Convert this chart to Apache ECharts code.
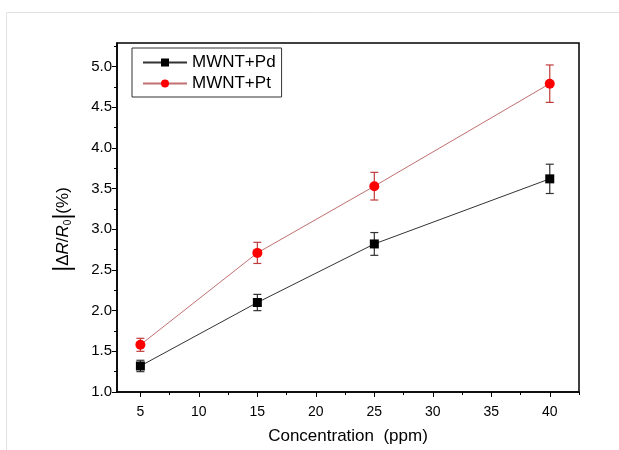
<!DOCTYPE html>
<html>
<head>
<meta charset="utf-8">
<script src="https://cdn.jsdelivr.net/npm/echarts@6/dist/echarts.min.js"></script>
<style>
html, body { margin: 0; padding: 0; background: #fff; }
#chart { width: 619px; height: 450px; }
</style>
</head>
<body>
<div id="chart"></div>
<script>
// concentration (ppm)
var conc = [5, 15, 25, 40];
// |dR/R0| (%) and error
var pdVals = [1.32, 2.10, 2.82, 3.62];
var pdErr = [0.07, 0.10, 0.14, 0.18];
var ptVals = [1.58, 2.71, 3.53, 4.79];
var ptErr = [0.08, 0.13, 0.17, 0.23];

var xTicks = [5, 10, 15, 20, 25, 30, 35, 40];
var xMinor = [7.5, 12.5, 17.5, 22.5, 27.5, 32.5, 37.5, 42.5];
var yTicks = [1.0, 1.5, 2.0, 2.5, 3.0, 3.5, 4.0, 4.5, 5.0];
var yMinor = [1.25, 1.75, 2.25, 2.75, 3.25, 3.75, 4.25, 4.75, 5.25];

var FONT = "Arial, 'Liberation Sans', sans-serif";

function pairs(xs, ys) {
	var out = [];
	for (var i = 0; i < xs.length; i++) {
		out.push([xs[i], ys[i]]);
	}
	return out;
}
function errData(xs, ys, es) {
	var out = [];
	for (var i = 0; i < xs.length; i++) {
		out.push([xs[i], ys[i] - es[i], ys[i] + es[i]]);
	}
	return out;
}
function errBar(color) {
	return function(params, api) {
		var lo = api.coord([api.value(0), api.value(1)]);
		var hi = api.coord([api.value(0), api.value(2)]);
		var w = 4;
		var st = { stroke: color, lineWidth: 1.2 };
		return {
			type: 'group',
			children: [
				{ type: 'line', shape: { x1: lo[0], y1: lo[1], x2: hi[0], y2: hi[1] }, style: st },
				{ type: 'line', shape: { x1: lo[0] - w, y1: lo[1], x2: lo[0] + w, y2: lo[1] }, style: st },
				{ type: 'line', shape: { x1: hi[0] - w, y1: hi[1], x2: hi[0] + w, y2: hi[1] }, style: st }
			]
		};
	};
}

var xMin = 3, xMax = 42.5, yMin = 1.0, yMax = 5.29;

var option = {
	backgroundColor: '#fff',
	animation: false,
	textStyle: { fontFamily: FONT },
	grid: {
		left: 117, right: 40, top: 43, bottom: 53,
		show: true, borderColor: '#000', borderWidth: 1.5, backgroundColor: 'transparent'
	},
	graphic: [
		{ type: 'line', shape: { x1: 6.5, y1: 12.5, x2: 619, y2: 12.5 }, style: { stroke: '#e2e2e2', lineWidth: 1 }, silent: true },
		{ type: 'line', shape: { x1: 6.5, y1: 12.5, x2: 6.5, y2: 450 }, style: { stroke: '#e2e2e2', lineWidth: 1 }, silent: true }
	],
	legend: {
		left: 132, top: 48,
		orient: 'vertical',
		borderColor: '#333', borderWidth: 1,
		padding: [6, 6, 5, 10],
		itemWidth: 44, itemHeight: 10, itemGap: 4,
		textStyle: { fontSize: 17, color: '#000', fontFamily: FONT },
		data: ['MWNT+Pd', 'MWNT+Pt']
	},
	xAxis: [{
		type: 'value', min: xMin, max: xMax,
		name: 'Concentration  (ppm)', nameLocation: 'middle', nameGap: 36,
		nameTextStyle: { fontSize: 17, color: '#000', fontFamily: FONT },
		splitLine: { show: false },
		axisLine: { show: true, onZero: false, lineStyle: { color: '#000', width: 1.5 } },
		axisTick: { show: true, inside: false, length: 5, lineStyle: { color: '#000' }, customValues: xTicks },
		axisLabel: { fontSize: 14, color: '#000', margin: 13, customValues: xTicks }
	}, {
		type: 'value', min: xMin, max: xMax, position: 'bottom',
		splitLine: { show: false },
		axisLine: { show: false },
		axisTick: { show: true, inside: false, length: 3, lineStyle: { color: '#000' }, customValues: xMinor },
		axisLabel: { show: false }
	}],
	yAxis: [{
		type: 'value', min: yMin, max: yMax,
		name: '{b||}{d|Δ}{i|R}{n|/}{i|R}{s|0}{b||}{n|(%)}', nameLocation: 'middle', nameGap: 42, nameRotate: 90,
		nameTextStyle: {
			color: '#000', fontFamily: FONT, fontSize: 17,
			padding: [0, 24, 0, 0],
			rich: {
				b: { fontSize: 23, color: '#000', fontFamily: FONT },
				d: { fontSize: 17, color: '#000', fontFamily: FONT },
				i: { fontSize: 17, color: '#000', fontStyle: 'italic', fontFamily: FONT },
				n: { fontSize: 17, color: '#000', fontFamily: FONT },
				s: { fontSize: 10, color: '#000', fontFamily: FONT, padding: [10, 0, 0, 0] }
			}
		},
		splitLine: { show: false },
		axisLine: { show: true, onZero: false, lineStyle: { color: '#000', width: 1.5 } },
		axisTick: { show: true, inside: false, length: 5, lineStyle: { color: '#000' }, customValues: yTicks },
		axisLabel: {
			fontSize: 15, color: '#000', margin: 5, customValues: yTicks,
			formatter: function(v) { return v.toFixed(1); }
		}
	}, {
		type: 'value', min: yMin, max: yMax, position: 'left',
		splitLine: { show: false },
		axisLine: { show: false },
		axisTick: { show: true, inside: false, length: 3, lineStyle: { color: '#000' }, customValues: yMinor },
		axisLabel: { show: false }
	}],
	series: [{
		name: 'MWNT+Pd', type: 'line',
		data: pairs(conc, pdVals),
		symbol: 'rect', symbolSize: 9,
		itemStyle: { color: '#000' },
		lineStyle: { color: '#333', width: 1 },
		z: 3
	}, {
		name: 'MWNT+Pt', type: 'line',
		data: pairs(conc, ptVals),
		symbol: 'circle', symbolSize: 10,
		itemStyle: { color: '#ff0000' },
		lineStyle: { color: '#c07070', width: 1 },
		z: 3
	}, {
		type: 'custom', name: 'errPd',
		renderItem: errBar('#333'),
		data: errData(conc, pdVals, pdErr),
		encode: { x: 0, y: [1, 2] },
		z: 2
	}, {
		type: 'custom', name: 'errPt',
		renderItem: errBar('#c03c3c'),
		data: errData(conc, ptVals, ptErr),
		encode: { x: 0, y: [1, 2] },
		z: 2
	}]
};

var myChart = echarts.init(document.getElementById('chart'));
myChart.setOption(option);
</script>
</body>
</html>
